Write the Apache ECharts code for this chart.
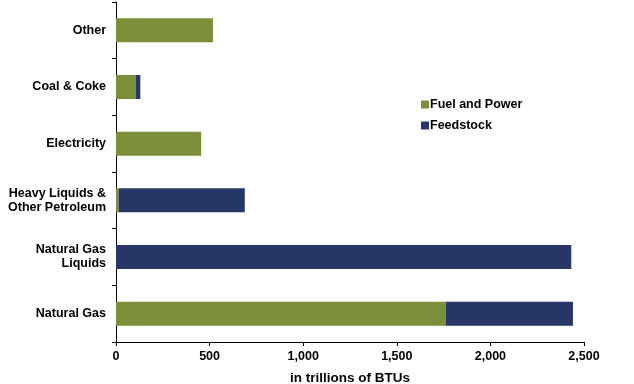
<!DOCTYPE html>
<html>
<head>
<meta charset="utf-8">
<script src="https://cdn.jsdelivr.net/npm/echarts@6/dist/echarts.min.js"></script>
<style>html,body{margin:0;padding:0;background:#fff;}#c{width:634px;height:384px;}</style>
</head>
<body>
<div id="c"></div>
<script>
const categories = ['Natural Gas', 'Natural Gas\nLiquids', 'Heavy Liquids &\nOther Petroleum', 'Electricity', 'Coal & Coke', 'Other'];
const fuelAndPower = [1762, 0, 14, 455, 105, 518];
const feedstock = [679, 2432, 674, 0, 25, 0];
const xTicks = { min: 0, max: 2500, interval: 500 };

const chart = echarts.init(document.getElementById('c'), null, { renderer: 'canvas' });
const font = 'Liberation Sans, Arial, sans-serif';
chart.setOption({
  animation: false,
  textStyle: { fontFamily: font },
  grid: { left: 116, right: 50, top: 2, bottom: 42, containLabel: false, outerBoundsMode: 'none' },
  legend: {
    orient: 'vertical', left: 416, top: 93,
    itemWidth: 8, itemHeight: 8, itemGap: 8,
    icon: 'rect',
    textStyle: { fontFamily: font, fontSize: 12.5, fontWeight: 'bold', color: '#000', padding: [0, 0, 0, -4] },
    data: ['Fuel and Power', 'Feedstock']
  },
  xAxis: {
    type: 'value', min: xTicks.min, max: xTicks.max, interval: xTicks.interval,
    name: 'in trillions of BTUs', nameLocation: 'middle', nameGap: 29,
    nameTextStyle: { fontFamily: font, fontSize: 13.5, fontWeight: 'bold', color: '#000' },
    axisLine: { show: true, lineStyle: { color: '#000', width: 1 } },
    axisTick: { show: true, length: 4, lineStyle: { color: '#000' } },
    axisLabel: {
      fontFamily: font, fontSize: 12.5, fontWeight: 'bold', color: '#000', margin: 8,
      formatter: v => v.toLocaleString('en-US')
    },
    splitLine: { show: false }
  },
  yAxis: {
    type: 'category', data: categories,
    axisLine: { show: true, lineStyle: { color: '#000', width: 1 } },
    axisTick: { show: true, length: 4, lineStyle: { color: '#000' } },
    axisLabel: { fontFamily: font, fontSize: 12.5, fontWeight: 'bold', color: '#000', margin: 10, lineHeight: 14, align: 'right' }
  },
  series: [
    { name: 'Fuel and Power', type: 'bar', stack: 't', data: fuelAndPower, barWidth: 24,
      itemStyle: { color: '#7b8e3a' } },
    { name: 'Feedstock', type: 'bar', stack: 't', data: feedstock, barWidth: 24,
      itemStyle: { color: '#253667' } }
  ]
});
</script>
</body>
</html>
